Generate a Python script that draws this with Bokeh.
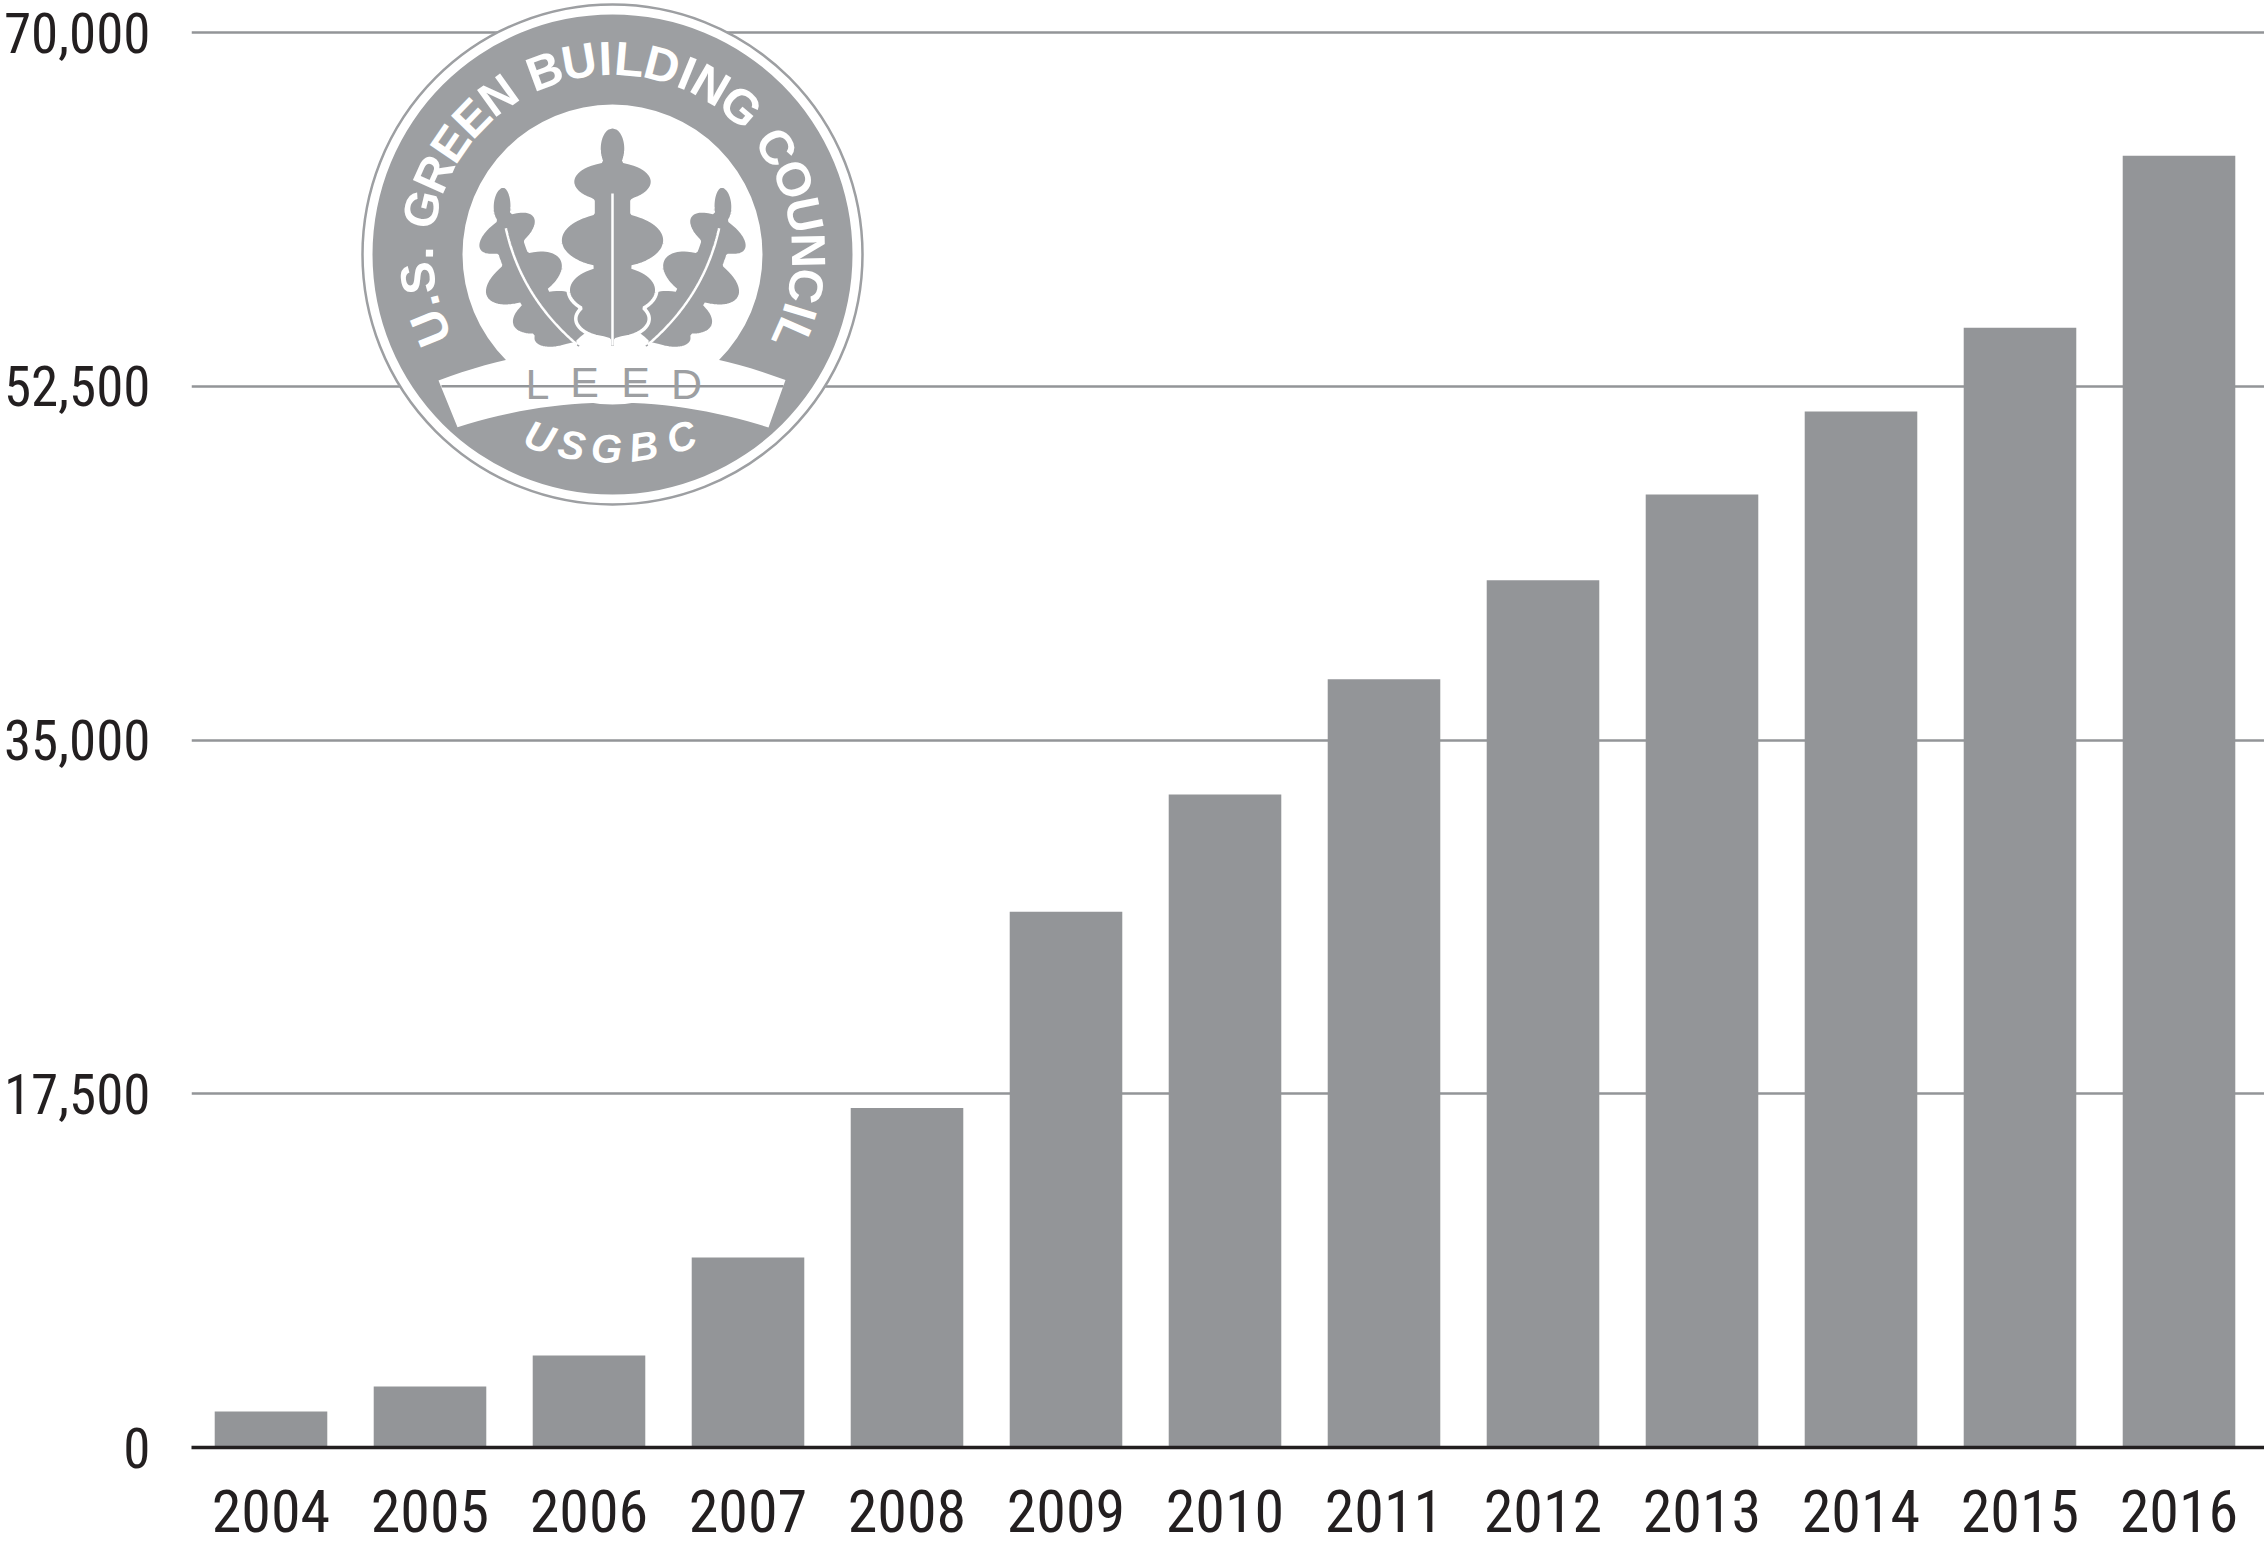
import math
from bokeh.plotting import figure
from bokeh.models import Range1d, FixedTicker, NumeralTickFormatter
from bokeh.core.properties import value
from bokeh.embed import file_html
from bokeh.resources import INLINE

# ---------------- data ----------------
years = ["2004", "2005", "2006", "2007", "2008", "2009", "2010",
         "2011", "2012", "2013", "2014", "2015", "2016"]
values = [1780, 3020, 4550, 9400, 16800, 26500, 32300,
          38000, 42900, 47150, 51250, 55400, 63900]
y_ticks = [0, 17500, 35000, 52500, 70000]

# ---------------- layout (page pixels) ----------------
FRAME_L, FRAME_R, FRAME_T, FRAME_B = 191, 2264, 0, 1447
TOP_GRID_Y = 32
PITCH = 159.0
ytop = y_ticks[-1] * (FRAME_B - FRAME_T) / (FRAME_B - TOP_GRID_Y)
x_end = -0.5 + (FRAME_R - FRAME_L) / PITCH

BAR = "#939598"
TXT = "#231f20"
LOGO = "#9d9fa2"
COND = "Roboto Condensed"

xpos = list(range(len(years)))

p = figure(x_range=Range1d(-0.5, x_end), y_range=Range1d(0, ytop),
           frame_width=FRAME_R - FRAME_L, frame_height=FRAME_B - FRAME_T,
           min_border_left=FRAME_L, min_border_right=0, min_border_top=FRAME_T,
           min_border_bottom=98, output_backend="svg", toolbar_location=None)
p.extra_x_ranges = {"px": Range1d(FRAME_L, FRAME_R)}
p.extra_y_ranges = {"px": Range1d(FRAME_B, FRAME_T)}
p.outline_line_color = None

p.vbar(x=xpos, top=values, width=0.708, fill_color=BAR, line_color=None)

p.xgrid.visible = False
p.ygrid.grid_line_color = BAR
p.ygrid.grid_line_width = 2.5

p.yaxis.ticker = FixedTicker(ticks=y_ticks)
p.yaxis.formatter = NumeralTickFormatter(format="0,0")
p.yaxis.axis_line_color = None
p.yaxis.major_tick_line_color = None
p.yaxis.minor_tick_line_color = None
p.yaxis.major_label_standoff = 35
p.yaxis.major_label_text_font = COND
p.yaxis.major_label_text_font_size = "55px"
p.yaxis.major_label_text_color = TXT

p.xaxis.ticker = FixedTicker(ticks=xpos)
p.xaxis.major_label_overrides = {i: y for i, y in zip(xpos, years)}
p.xaxis.axis_line_color = TXT
p.xaxis.axis_line_width = 3.5
p.xaxis.major_tick_line_color = None
p.xaxis.minor_tick_line_color = None
p.xaxis.major_label_standoff = 36
p.xaxis.major_label_text_font = COND
p.xaxis.major_label_text_font_size = "60px"
p.xaxis.major_label_text_color = TXT

# ---------------- USGBC LEED logo (decoration) ----------------
CX, CY = 612, 254
R_RING, R_BAND_OUT, R_BAND_IN, R_TEXT = 250, 240, 150, 196
PX = dict(x_range_name="px", y_range_name="px")

p.circle(x=[CX], y=[CY], radius=R_RING, fill_color="white",
         line_color=LOGO, line_width=2.5, **PX)
p.annulus(x=[CX], y=[CY], inner_radius=R_BAND_IN, outer_radius=R_BAND_OUT,
          fill_color=LOGO, line_color=None, **PX)

# oak leaf: rounded lobes (centre, reach along the axis, half width) as
# fractions of the leaf length / maximum half width
lobes = [(0.10, 0.10, 0.25), (0.25, 0.095, 0.74), (0.515, 0.13, 0.97),
         (0.74, 0.115, 0.82), (0.87, 0.09, 0.68)]


def leaf(bx, by, tx, ty, hw, bow, n=140):
    L = math.hypot(tx - bx, ty - by)
    dx, dy = (tx - bx) / L, (ty - by) / L
    nx, ny = -dy, dx
    right, left, vein = [], [], []
    for k in range(n + 1):
        t = k / n                      # 0 at tip, 1 at base
        w = 0.0
        for c, r, a in lobes:
            q = (t - c) / r
            if abs(q) < 1:
                w = max(w, a * math.sqrt(1 - q * q))
        if 0.17 < t < 0.95:
            w = max(w, 0.36)
        w = max(w, 0.06 if t > 0.9 else 0.0)
        s = 1 - t
        b = bow * 4 * s * (1 - s)
        cx = bx + s * L * dx + b * nx
        cy = by + s * L * dy + b * ny
        right.append((cx + w * hw * nx, cy + w * hw * ny))
        left.append((cx - w * hw * nx, cy - w * hw * ny))
        if 0.02 < s < 0.78:
            vein.append((cx, cy))
    pts = right + left[::-1]
    return [q[0] for q in pts], [q[1] for q in pts], [q[0] for q in vein], [q[1] for q in vein]


lx, ly, lvx, lvy = leaf(580, 347, 500, 186, 44, -20)
rx = [2 * CX - v for v in lx]
rvx = [2 * CX - v for v in lvx]
cx_, cy_, cvx, cvy = leaf(CX, 347, CX, 126, 54, 0)
p.patches(xs=[lx, rx, cx_], ys=[ly, ly, cy_], fill_color=LOGO,
          line_color="white", line_width=3.5, **PX)
p.multi_line(xs=[lvx, rvx, [CX, CX]], ys=[lvy, lvy, [193, 345]],
             line_color="white", line_width=2.5, **PX)

# white LEED banner
bx_top = [438 + i * (785 - 438) / 30 for i in range(31)]
by_top = [347 + 33 * ((x - CX) / 174) ** 2 for x in bx_top]
bx_bot = [768 - i * (768 - 457) / 30 for i in range(31)]
by_bot = [402 + 25 * ((x - CX) / 156) ** 2 for x in bx_bot]
p.patch(x=bx_top + bx_bot, y=by_top + by_bot, fill_color="white",
        line_color=None, **PX)
p.segment(x0=[441], x1=[783], y0=[y_ticks[3]], y1=[y_ticks[3]],
          line_color=BAR, line_width=2.5, x_range_name="px")

p.text(x=[537, 584, 635, 686], y=[383, 381, 381, 383], text=list("LEED"),
       text_font=value("Liberation Sans"), text_font_size="43px",
       text_color=LOGO, text_align="center", text_baseline="middle", **PX)

# band text along the arc
ring_text = "U.S. GREEN BUILDING COUNCIL"
cw = {"U": .722, "S": .667, ".": .278, " ": .278, "G": .778, "R": .722,
      "E": .667, "N": .722, "B": .722, "I": .278, "L": .611, "D": .722,
      "C": .722, "O": .778}
track = 0.12
pos, acc = [], 0.0
for ch in ring_text:
    w = cw[ch] + track
    pos.append(acc + w / 2)
    acc += w
th0, th1 = 202.0, -24.0
rtx, rty, rta, rtt = [], [], [], []
for ch, ps in zip(ring_text, pos):
    if ch == " ":
        continue
    th = th0 + (ps - pos[0]) / (pos[-1] - pos[0]) * (th1 - th0)
    a = math.radians(th)
    rtx.append(CX + R_TEXT * math.cos(a))
    rty.append(CY - R_TEXT * math.sin(a))
    rta.append(th - 90)
    rtt.append(ch)
p.text(x=rtx, y=rty, text=rtt, angle=rta, angle_units="deg",
       text_font=value("Liberation Sans"), text_font_style="bold",
       text_font_size="48px", text_color="white", text_align="center",
       text_baseline="middle", **PX)

# USGBC along the lower arc
ux, uy, ua = [], [], []
for th in [251.5, 260.0, 269.0, 278.5, 288.5]:
    a = math.radians(th)
    ux.append(610 + 223 * math.cos(a))
    uy.append(225 - 223 * math.sin(a))
    ua.append(th - 270)
p.text(x=ux, y=uy, text=list("USGBC"), angle=ua, angle_units="deg",
       text_font=value("Liberation Sans"), text_font_style="bold italic",
       text_font_size="40px", text_color="white", text_align="center",
       text_baseline="middle", **PX)

open("out.html", "w").write(file_html(p, INLINE))
